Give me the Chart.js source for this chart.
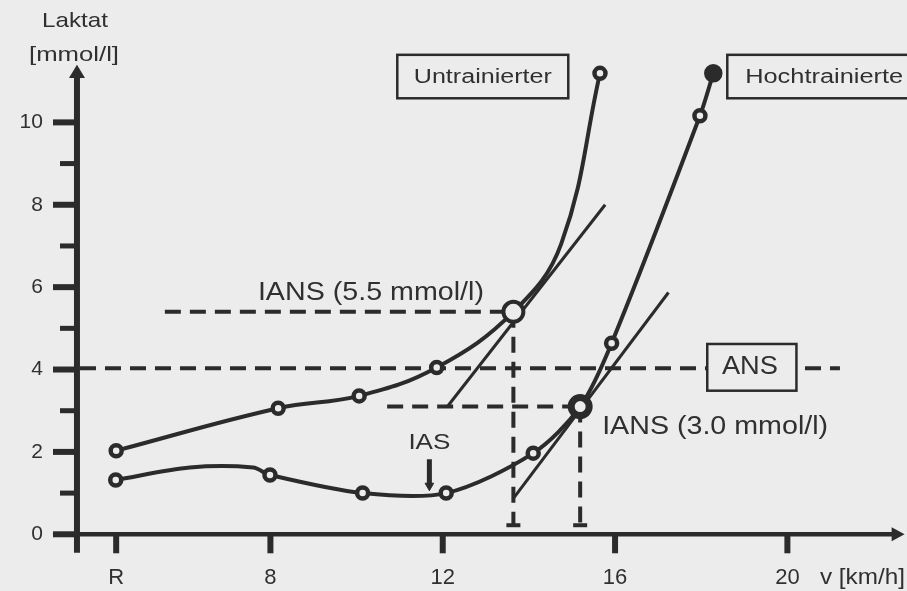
<!DOCTYPE html>
<html><head><meta charset="utf-8">
<script src="https://cdn.jsdelivr.net/npm/chart.js@4/dist/chart.umd.min.js"></script>
<style>html,body{margin:0;padding:0;background:#ececec;overflow:hidden}canvas{display:block}</style>
</head><body>
<canvas id="c" width="907" height="591"></canvas>
<script>
// ---- data (velocity in km/h, lactate in mmol/l) ----
const untrainedV = [4.42, 8.18, 10.06, 11.86, 13.64, 14.75, 15.65];
const untrainedL = [2.03, 3.06, 3.36, 4.05, 5.40, 7.05, 11.19];
const trainedV = [4.41, 6.13, 7.60, 7.99, 10.14, 12.08, 14.10, 15.19, 15.92, 17.97, 18.28];
const trainedL = [1.32, 1.62, 1.62, 1.44, 1.00, 1.00, 1.97, 3.10, 4.64, 10.16, 11.19];
const tangentUntrainedV = [12.10, 15.77];
const tangentUntrainedL = [3.09, 8.00];
const tangentTrainedV = [13.64, 17.24];
const tangentTrainedL = [0.87, 5.87];
const ansLevel = 4.03;
const ansRange = [3.58, 21.22];
const iansUntrainedV = 13.64, iansUntrainedL = 5.40, iansUntrainedFrom = 5.55;
const iansTrainedV = 15.19, iansTrainedL = 3.10, iansTrainedFrom = 10.71;
const iasV = 11.69, iasRange = [1.82, 1.18];
const yMajorTicks = [0, 2, 4, 6, 8, 10];
const yMinorTicks = [1, 3, 5, 7, 9];
const xTickValues = [4.42, 8, 12, 16, 20];
const xTickLabels = ['R', '8', '12', '16', '20'];
const axisAtV = 3.51;          // where the lactate axis crosses
const dropEnd = 0.22;           // foot of the dashed drop lines

const ink = '#2b2b2b', bg = '#ececec', textInk = '#303030';
const zip = (a, b) => a.map((v, i) => ({x: v, y: b[i]}));

const untrainedR = untrainedV.map((v, i) => i === 4 ? 10 : (i === 5 ? 0 : 5.5));
const trainedR = trainedV.map((v, i) => (i === 1 || i === 2) ? 0 : (i === 7 ? 9 : (i === trainedV.length - 1 ? 7 : 5.5)));
const trainedBW = trainedV.map((v, i) => i === 7 ? 7 : 4.5);
const trainedFill = trainedV.map((v, i) => i === trainedV.length - 1 ? ink : bg);

const dash = [16, 9];
const datasets = [
  {data: zip(untrainedV, untrainedL), borderColor: ink, borderWidth: 4, tension: 0.4,
   pointRadius: untrainedR, pointBorderWidth: untrainedV.map((v,i)=> i===4?4:4.5), pointBackgroundColor: bg, pointBorderColor: ink, order: 1},
  {data: zip(trainedV, trainedL), borderColor: ink, borderWidth: 4, tension: 0.3,
   pointRadius: trainedR, pointBorderWidth: trainedBW, pointBackgroundColor: trainedFill, pointBorderColor: ink, order: 1},
  {data: zip(tangentUntrainedV, tangentUntrainedL), borderColor: ink, borderWidth: 3, pointRadius: 0, order: 2},
  {data: zip(tangentTrainedV, tangentTrainedL), borderColor: ink, borderWidth: 3, pointRadius: 0, order: 2},
  {data: [{x: ansRange[0], y: ansLevel}, {x: ansRange[1], y: ansLevel}], borderColor: ink, borderWidth: 4, borderDash: dash, pointRadius: 0, order: 3},
  {data: [{x: iansUntrainedFrom, y: iansUntrainedL}, {x: iansUntrainedV, y: iansUntrainedL}], borderColor: ink, borderWidth: 4, borderDash: dash, pointRadius: 0, order: 3},
  {data: [{x: iansUntrainedV, y: iansUntrainedL}, {x: iansUntrainedV, y: dropEnd}], borderColor: ink, borderWidth: 4, borderDash: dash,
   pointRadius: [0, 7], pointStyle: 'line', pointBorderWidth: 4, pointBorderColor: ink, order: 3},
  {data: [{x: iansTrainedFrom, y: iansTrainedL}, {x: iansTrainedV, y: iansTrainedL}], borderColor: ink, borderWidth: 4, borderDash: dash, pointRadius: 0, order: 3},
  {data: [{x: iansTrainedV, y: iansTrainedL}, {x: iansTrainedV, y: dropEnd}], borderColor: ink, borderWidth: 4, borderDash: dash,
   pointRadius: [0, 7], pointStyle: 'line', pointBorderWidth: 4, pointBorderColor: ink, order: 3},
  {data: [{x: iasV, y: iasRange[0]}, {x: iasV, y: iasRange[1]}], borderColor: ink, borderWidth: 5,
   pointRadius: [0, 5], pointStyle: 'triangle', pointRotation: 180, pointBackgroundColor: ink, pointBorderColor: ink, pointBorderWidth: 1, order: 1}
];

function fitText(ctx, s, x, y, size, w, align) {
  ctx.save();
  ctx.font = size + 'px "Liberation Sans", Arial, sans-serif';
  const m = ctx.measureText(s).width;
  const sx = w ? w / m : 1;
  ctx.translate(x, y);
  ctx.scale(sx, 1);
  ctx.textAlign = align || 'center';
  ctx.textBaseline = 'middle';
  ctx.fillStyle = textInk;
  ctx.fillText(s, 0, 0);
  ctx.restore();
}

const framePlugin = {
  id: 'frame',
  beforeDraw(chart) {
    const ctx = chart.ctx;
    ctx.save(); ctx.fillStyle = bg; ctx.fillRect(0, 0, chart.width, chart.height); ctx.restore();
  },
  beforeDatasetsDraw(chart) {
    const ctx = chart.ctx, xs = chart.scales.x, ys = chart.scales.y;
    const X = v => xs.getPixelForValue(v), Y = v => ys.getPixelForValue(v);
    const ax = X(axisAtV), y0 = Y(0);
    ctx.save();
    ctx.strokeStyle = ink; ctx.fillStyle = ink; ctx.lineCap = 'butt';
    // lactate axis
    ctx.lineWidth = 6;
    ctx.beginPath(); ctx.moveTo(ax, Y(-0.45)); ctx.lineTo(ax, Y(11.1)); ctx.stroke();
    ctx.beginPath(); ctx.moveTo(ax, Y(11.4)); ctx.lineTo(ax - 8, Y(11.08)); ctx.lineTo(ax + 8, Y(11.08)); ctx.closePath(); ctx.fill();
    // velocity axis
    ctx.lineWidth = 4.5;
    ctx.beginPath(); ctx.moveTo(ax - 24, y0); ctx.lineTo(X(22.45), y0); ctx.stroke();
    ctx.beginPath(); ctx.moveTo(X(22.72), y0); ctx.lineTo(X(22.42), y0 - 7); ctx.lineTo(X(22.42), y0 + 7); ctx.closePath(); ctx.fill();
    // y ticks
    yMajorTicks.forEach(t => { ctx.lineWidth = 6; ctx.beginPath(); ctx.moveTo(ax - 24, Y(t)); ctx.lineTo(ax, Y(t)); ctx.stroke(); });
    yMinorTicks.forEach(t => { ctx.lineWidth = 5; ctx.beginPath(); ctx.moveTo(ax - 17, Y(t)); ctx.lineTo(ax, Y(t)); ctx.stroke(); });
    // x ticks
    xTickValues.forEach(t => { ctx.lineWidth = 6; ctx.beginPath(); ctx.moveTo(X(t), y0); ctx.lineTo(X(t), y0 + 19); ctx.stroke(); });
    ctx.restore();
    // tick labels
    yMajorTicks.forEach(t => fitText(ctx, String(t), ax - 34, Y(t), 21, null, 'right'));
    xTickValues.forEach((t, i) => fitText(ctx, xTickLabels[i], X(t), y0 + 44, 22, null, 'center'));
    fitText(ctx, 'v [km/h]', X(20.756), y0 + 44, 22, 85, 'left');
    fitText(ctx, 'Laktat', X(3.464), Y(12.45), 21, 66, 'center');
    fitText(ctx, '[mmol/l]', X(3.441), Y(11.64), 21, 90, 'center');
  },
  afterDatasetsDraw(chart) {
    const ctx = chart.ctx, xs = chart.scales.x, ys = chart.scales.y;
    const X = v => xs.getPixelForValue(v), Y = v => ys.getPixelForValue(v);
    const box = (v0, v1, l0, l1) => {
      ctx.save();
      const x0 = X(v0), x1 = X(v1), yt = Y(l1), yb = Y(l0);
      ctx.fillStyle = bg; ctx.fillRect(x0, yt, x1 - x0, yb - yt);
      ctx.strokeStyle = ink; ctx.lineWidth = 2.5; ctx.strokeRect(x0, yt, x1 - x0, yb - yt);
      ctx.restore();
    };
    box(10.945, 14.914, 10.585, 11.64);
    fitText(ctx, 'Untrainierter', X(12.93), Y(11.10), 20, 138, 'center');
    box(18.605, 23.5, 10.585, 11.64);
    fitText(ctx, 'Hochtrainierte', X(19.02), Y(11.10), 20, 158, 'left');
    box(18.14, 20.21, 3.486, 4.62);
    fitText(ctx, 'ANS', X(19.13), Y(4.06), 25, 56, 'center');
    fitText(ctx, 'IANS (5.5 mmol/l)', X(7.71), Y(5.858), 25, 226, 'left');
    fitText(ctx, 'IANS (3.0 mmol/l)', X(15.70), Y(2.605), 25, 226, 'left');
    fitText(ctx, 'IAS', X(11.69), Y(2.216), 22, 42, 'center');
  }
};

new Chart(document.getElementById('c'), {
  type: 'line',
  data: {datasets},
  options: {
    responsive: false, animation: false, events: [],
    layout: {autoPadding: false, padding: {left: 55, right: 2, top: 40, bottom: 32}},
    plugins: {legend: {display: false}, tooltip: {enabled: false}},
    scales: {
      x: {type: 'linear', min: 3, max: 22.73, display: false},
      y: {type: 'linear', min: -0.6, max: 12, display: false}
    }
  },
  plugins: [framePlugin]
});
</script>
</body></html>
